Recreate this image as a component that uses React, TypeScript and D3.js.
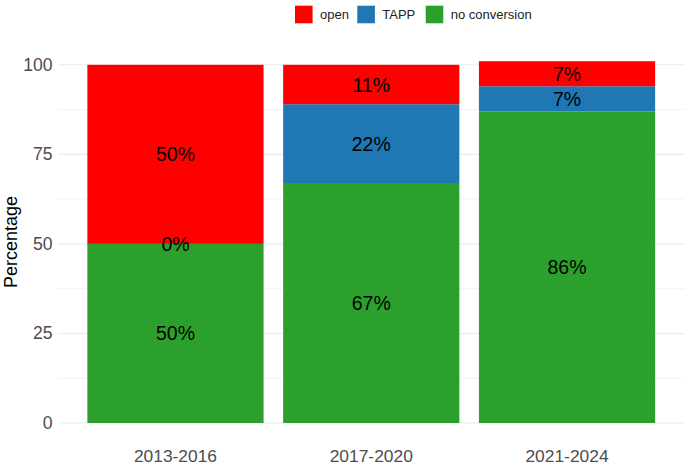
import React, { useRef, useEffect } from "react";
import * as d3 from "d3";

// Values (percent of each period)
const periods = ["2013-2016", "2017-2020", "2021-2024"];
const noConversion = [50, 67, 87];
const tapp = [0, 22, 7];
const open = [50, 11, 7];
const noConversionLabels = ["50%", "67%", "86%"];
const tappLabels = ["0%", "22%", "7%"];
const openLabels = ["50%", "11%", "7%"];
const yTicks = [0, 25, 50, 75, 100];
const yMinorTicks = [12.5, 37.5, 62.5, 87.5];

const legendKeys = ["open", "TAPP", "no conversion"];
const stackKeys = ["no conversion", "TAPP", "open"];
const colors: Record<string, string> = {
  open: "#FF0000",
  TAPP: "#1F77B4",
  "no conversion": "#2CA02C",
};

interface Row {
  period: string;
  [key: string]: number | string;
}

const App: React.FC = () => {
  const ref = useRef<SVGSVGElement | null>(null);

  useEffect(() => {
    const width = 685;
    const height = 464;
    const font = "'Liberation Sans', Arial, sans-serif";
    const panel = { left: 58, right: 684.5, top: 43, bottom: 441 };

    const rows: Row[] = periods.map((p, i) => ({
      period: p,
      "no conversion": noConversion[i],
      TAPP: tapp[i],
      open: open[i],
    }));
    const labels: Record<string, string[]> = {
      "no conversion": noConversionLabels,
      TAPP: tappLabels,
      open: openLabels,
    };

    const svg = d3.select(ref.current);
    svg.selectAll("*").remove();
    svg.attr("width", width).attr("height", height);

    const x = d3
      .scaleBand<string>()
      .domain(periods)
      .range([panel.left, panel.right])
      .paddingInner(0.1)
      .paddingOuter(0.15);
    const y = d3.scaleLinear().domain([0, 100]).range([423, 64.8]);

    // Grid lines
    svg
      .append("g")
      .selectAll("line")
      .data(yMinorTicks)
      .enter()
      .append("line")
      .attr("x1", panel.left)
      .attr("x2", panel.right)
      .attr("y1", (d) => y(d))
      .attr("y2", (d) => y(d))
      .attr("stroke", "#f0f0f0")
      .attr("stroke-width", 0.8);
    svg
      .append("g")
      .selectAll("line")
      .data(yTicks)
      .enter()
      .append("line")
      .attr("x1", panel.left)
      .attr("x2", panel.right)
      .attr("y1", (d) => y(d))
      .attr("y2", (d) => y(d))
      .attr("stroke", "#ebebeb")
      .attr("stroke-width", 1.1);

    // Stacked bars
    const series = d3.stack<Row>().keys(stackKeys)(rows);
    const layers = svg
      .append("g")
      .selectAll("g")
      .data(series)
      .enter()
      .append("g")
      .attr("fill", (d) => colors[d.key]);
    layers
      .selectAll("rect")
      .data((d) => d)
      .enter()
      .append("rect")
      .attr("x", (d) => x(d.data.period) as number)
      .attr("width", x.bandwidth())
      .attr("y", (d) => y(d[1]))
      .attr("height", (d) => y(d[0]) - y(d[1]));

    // Segment labels
    series.forEach((s) => {
      svg
        .append("g")
        .selectAll("text")
        .data(s)
        .enter()
        .append("text")
        .attr("x", (d) => (x(d.data.period) as number) + x.bandwidth() / 2)
        .attr("y", (d) => y((d[0] + d[1]) / 2))
        .attr("text-anchor", "middle")
        .attr("dominant-baseline", "central")
        .attr("fill", "#000")
        .style("font-family", font)
        .style("font-size", "19.5px")
        .text((d, i) => labels[s.key][i]);
    });

    // Y axis tick labels
    svg
      .append("g")
      .selectAll("text")
      .data(yTicks)
      .enter()
      .append("text")
      .attr("x", 52.5)
      .attr("y", (d) => y(d))
      .attr("text-anchor", "end")
      .attr("dominant-baseline", "central")
      .attr("fill", "#4d4d4d")
      .style("font-family", font)
      .style("font-size", "17.6px")
      .text((d) => d);

    // X axis tick labels
    svg
      .append("g")
      .selectAll("text")
      .data(periods)
      .enter()
      .append("text")
      .attr("x", (d) => (x(d) as number) + x.bandwidth() / 2)
      .attr("y", 461.5)
      .attr("text-anchor", "middle")
      .attr("fill", "#4d4d4d")
      .style("font-family", font)
      .style("font-size", "17.4px")
      .text((d) => d);

    // Axis title
    svg
      .append("text")
      .attr("transform", `translate(11,${(panel.top + panel.bottom) / 2}) rotate(-90)`)
      .attr("text-anchor", "middle")
      .attr("dominant-baseline", "central")
      .attr("fill", "#000")
      .style("font-family", font)
      .style("font-size", "18px")
      .text("Percentage");

    // Legend
    const legendX = [295, 357.3, 425.7];
    const legend = svg
      .append("g")
      .selectAll("g")
      .data(legendKeys)
      .enter()
      .append("g")
      .attr("transform", (d, i) => `translate(${legendX[i]},5.7)`);
    legend
      .append("rect")
      .attr("width", 17.6)
      .attr("height", 17.6)
      .attr("fill", (d) => colors[d]);
    legend
      .append("text")
      .attr("x", 25)
      .attr("y", 9)
      .attr("dominant-baseline", "central")
      .attr("fill", "#222")
      .style("font-family", font)
      .style("font-size", "13px")
      .text((d) => d);
  }, []);

  return (
    <svg
      ref={ref}
      style={{ position: "absolute", left: 0, top: 0, background: "#fff" }}
    />
  );
};

export default App;
